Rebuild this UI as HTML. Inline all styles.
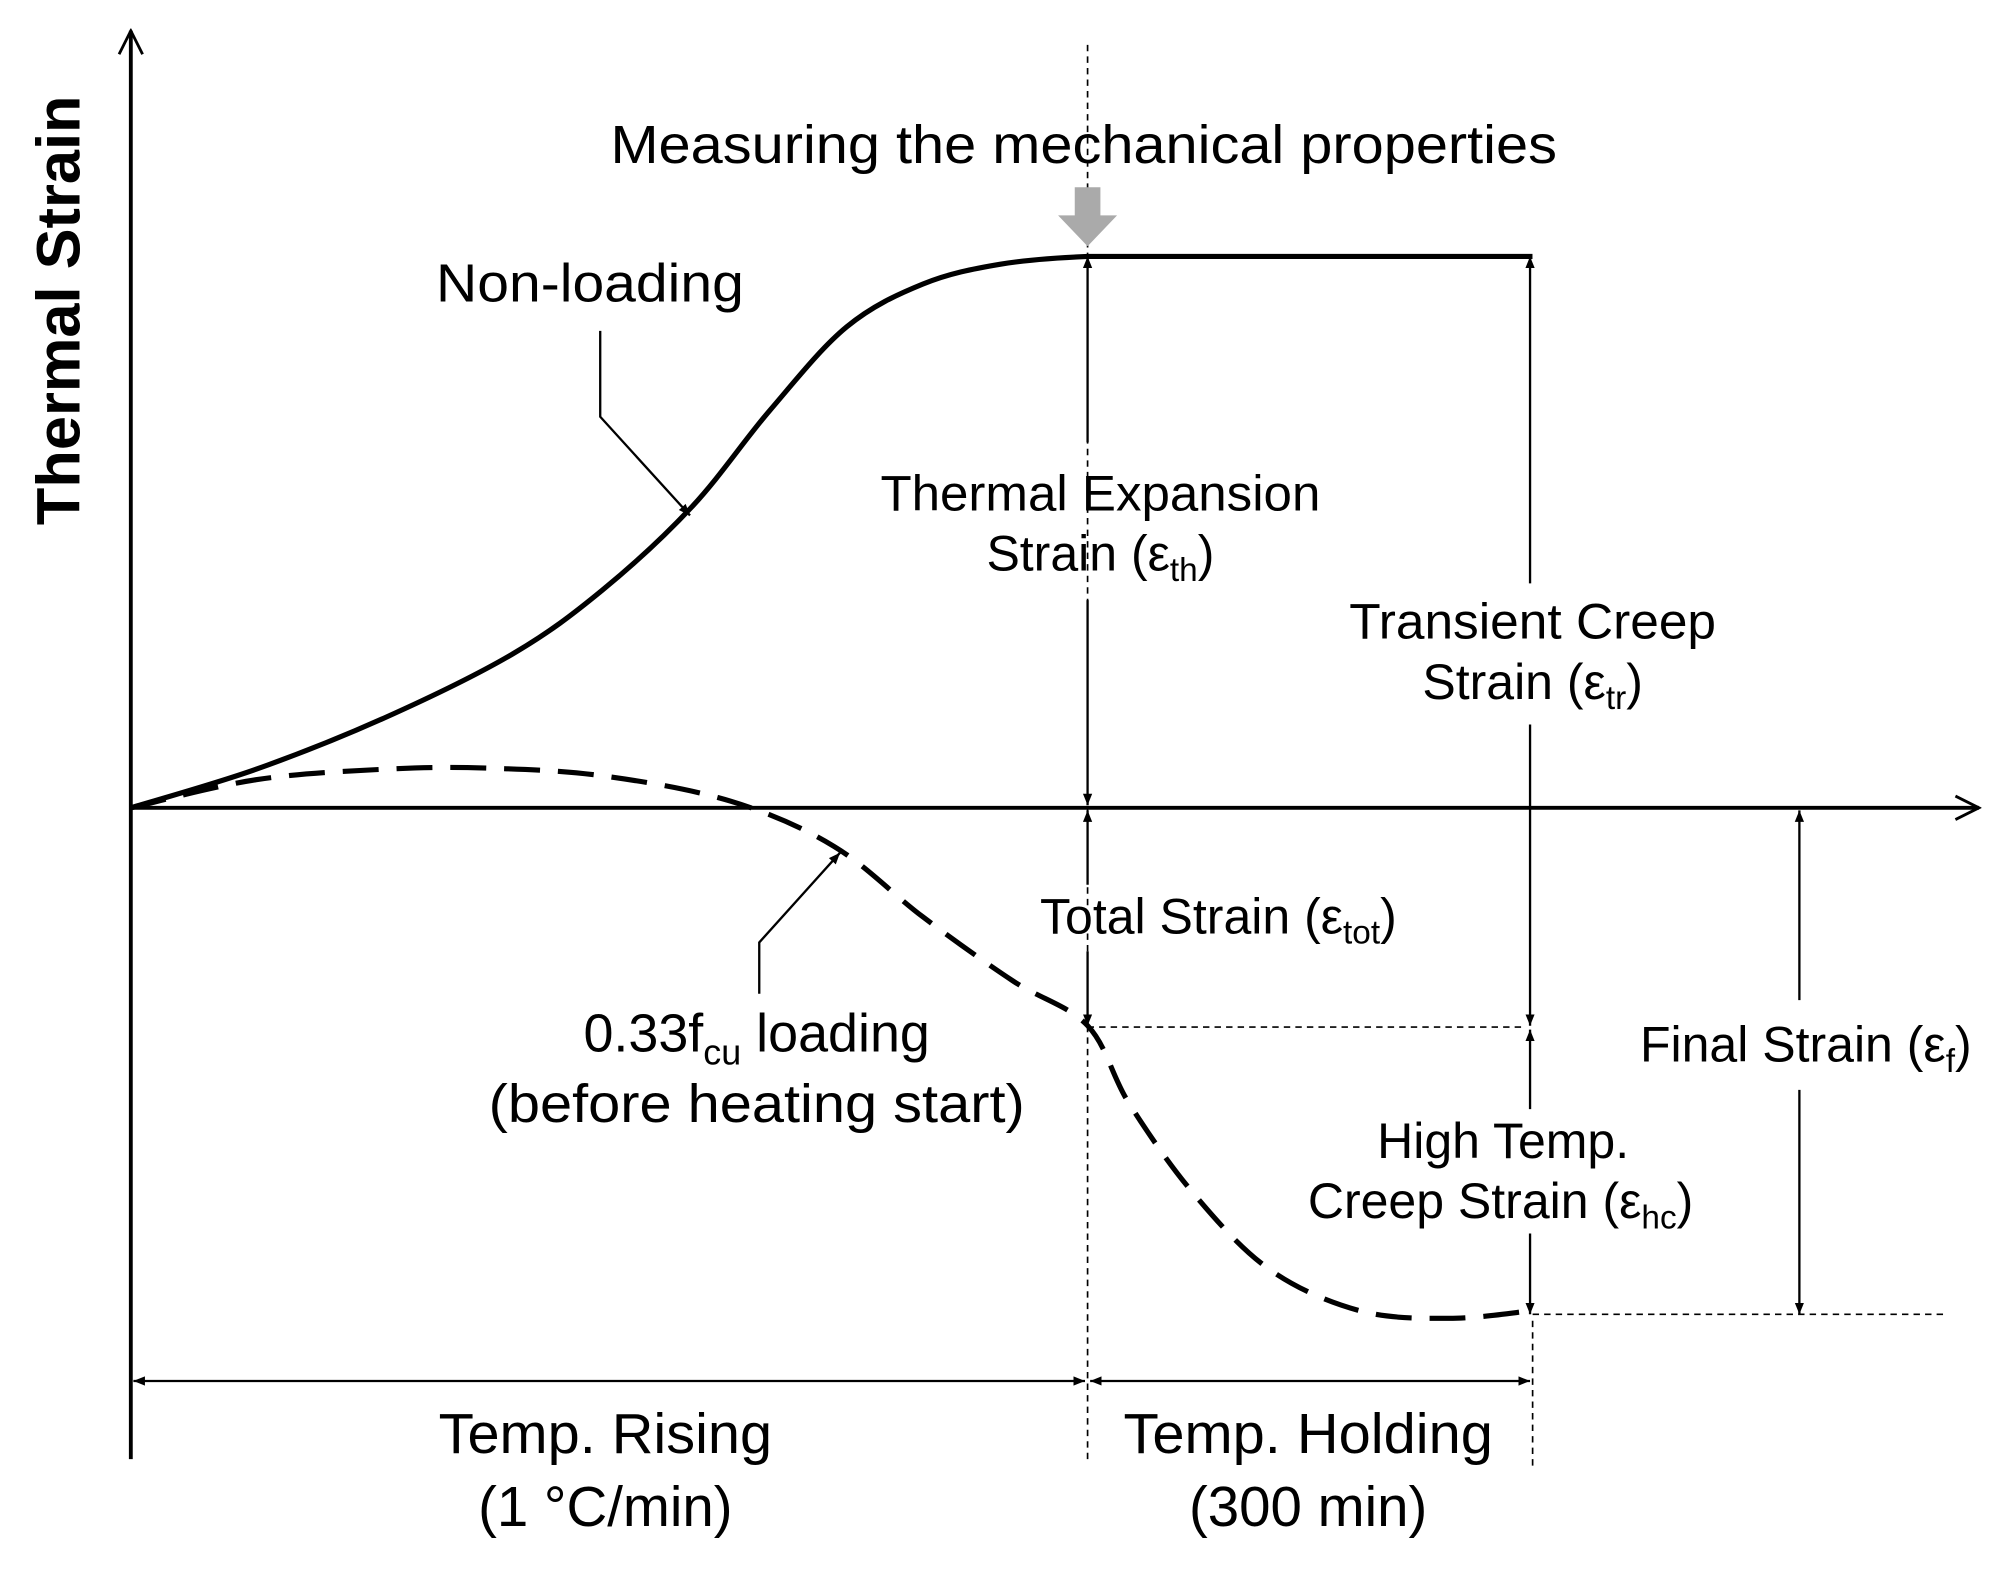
<!DOCTYPE html>
<html><head><meta charset="utf-8"><style>
html,body{margin:0;padding:0;background:#fff}
svg{display:block}
text{font-family:"Liberation Sans",Arial,sans-serif;fill:#000}
</style></head><body>
<svg id="chart" width="2011" height="1581" viewBox="0 0 1568 1233" preserveAspectRatio="none" xmlns="http://www.w3.org/2000/svg">
<defs>
<marker id="ah" viewBox="0 0 10 10" refX="10" refY="5" markerWidth="9" markerHeight="9" markerUnits="userSpaceOnUse" orient="auto-start-reverse"><path d="M0,1 L10,5 L0,9 z" fill="#000"/></marker>
<marker id="ax" viewBox="0 0 12 12" refX="11" refY="6" markerWidth="22" markerHeight="22" markerUnits="userSpaceOnUse" orient="auto"><path d="M1,1 L11,6 L1,11" fill="none" stroke="#000" stroke-width="1.2"/></marker>
</defs>
<g id="axes">
<line x1="102" y1="1138" x2="102" y2="24" stroke="#000" stroke-width="3" marker-end="url(#ax)"/>
<line x1="102" y1="630" x2="1543" y2="630" stroke="#000" stroke-width="3" marker-end="url(#ax)"/>
</g>
<text transform="translate(62,242) rotate(-90)" text-anchor="middle" font-size="48" font-weight="bold" textLength="335" lengthAdjust="spacingAndGlyphs">Thermal Strain</text>
<g id="guides" stroke="#000" stroke-width="1.3" stroke-dasharray="5,4" fill="none">
<line x1="848" y1="35" x2="848" y2="1140"/>
<line x1="1195" y1="1030" x2="1195" y2="1145"/>
<line x1="848" y1="801" x2="1190" y2="801"/>
<line x1="1195" y1="1025" x2="1515" y2="1025"/>
</g>
<path d="M838,146 L858,146 L858,168 L871,168 L848,192 L825,168 L838,168 z" fill="#aaa"/>
<g id="series"></g>
<g id="dims" stroke="#000" stroke-width="1.8" fill="none">
<line x1="848" y1="345" x2="848" y2="200" marker-end="url(#ah)"/>
<line x1="848" y1="468" x2="848" y2="628" marker-end="url(#ah)"/>
<line x1="848" y1="690" x2="848" y2="632" marker-end="url(#ah)"/>
<line x1="848" y1="742" x2="848" y2="800" marker-end="url(#ah)"/>
<line x1="1193" y1="455" x2="1193" y2="200" marker-end="url(#ah)"/>
<line x1="1193" y1="565" x2="1193" y2="800" marker-end="url(#ah)"/>
<line x1="1193" y1="865" x2="1193" y2="803" marker-end="url(#ah)"/>
<line x1="1193" y1="962" x2="1193" y2="1025" marker-end="url(#ah)"/>
<line x1="1403" y1="780" x2="1403" y2="632" marker-end="url(#ah)"/>
<line x1="1403" y1="850" x2="1403" y2="1025" marker-end="url(#ah)"/>
<line x1="104" y1="1077" x2="846" y2="1077" marker-start="url(#ah)" marker-end="url(#ah)"/>
<line x1="850" y1="1077" x2="1193" y2="1077" marker-start="url(#ah)" marker-end="url(#ah)"/>
<polyline points="468,258 468,325 538,402" marker-end="url(#ah)"/>
<polyline points="592,775 592,735 655,665" marker-end="url(#ah)"/>
</g>
<g font-size="42" text-anchor="middle">
<text x="845" y="127" font-size="42" textLength="738" lengthAdjust="spacingAndGlyphs">Measuring the mechanical properties</text>
<text x="460" y="235" textLength="240" lengthAdjust="spacingAndGlyphs">Non-loading</text>
<text x="858" y="398" font-size="39" textLength="343" lengthAdjust="spacingAndGlyphs">Thermal Expansion</text>
<text x="858" y="445" font-size="39">Strain (ε<tspan font-size="26" dy="8">th</tspan><tspan dy="-8">)</tspan></text>
<text x="1195" y="498" font-size="39" textLength="286" lengthAdjust="spacingAndGlyphs">Transient Creep</text>
<text x="1195" y="545" font-size="39">Strain (ε<tspan font-size="26" dy="8">tr</tspan><tspan dy="-8">)</tspan></text>
<text x="950" y="728" font-size="39">Total Strain (ε<tspan font-size="26" dy="8">tot</tspan><tspan dy="-8">)</tspan></text>
<text x="590" y="820">0.33f<tspan font-size="28" dy="10">cu</tspan><tspan dy="-10"> loading</tspan></text>
<text x="590" y="875" textLength="418" lengthAdjust="spacingAndGlyphs">(before heating start)</text>
<text x="1408" y="828" font-size="39">Final Strain (ε<tspan font-size="26" dy="8">f</tspan><tspan dy="-8">)</tspan></text>
<text x="1172" y="903" font-size="39">High Temp.</text>
<text x="1170" y="950" font-size="39">Creep Strain (ε<tspan font-size="26" dy="8">hc</tspan><tspan dy="-8">)</tspan></text>
<text x="472" y="1133" font-size="44" textLength="260" lengthAdjust="spacingAndGlyphs">Temp. Rising</text>
<text x="472" y="1190" font-size="44">(1 °C/min)</text>
<text x="1020" y="1133" font-size="44" textLength="288" lengthAdjust="spacingAndGlyphs">Temp. Holding</text>
<text x="1020" y="1190" font-size="44">(300 min)</text>
</g>
</svg>
<script>
const nonLoadTime = [0, 13.1, 26.5, 39.9, 49.3, 58.7, 66.8, 74.8, 82.8, 90.9, 100, 146.5];
const nonLoadStrain = [0, 7, 16.3, 27.9, 39.5, 54.7, 72.1, 87.2, 95, 98.6, 100, 100];
const loadTime = [0, 13.1, 26.5, 37.2, 49.3, 62.7, 73.5, 82.8, 92.2, 100, 104.3, 111, 119, 128.4, 137.8, 146.5];
const loadStrain = [0, 5.1, 7, 7.2, 5.8, 1.2, -7, -19.8, -31.4, -39.5, -53.5, -69.8, -83.7, -91.2, -92.6, -91.2];
function xS(t){return 102 + t*7.46;}
function yS(s){return 630 - s*4.3;}
function smooth(ts, ss, straightAfter){
  const p = ts.map((t,i)=>[xS(t), yS(ss[i])]);
  let d = 'M' + p[0][0] + ',' + p[0][1];
  for(let i=0;i<p.length-1;i++){
    if(straightAfter!==undefined && i>=straightAfter){d+=' L'+p[i+1][0]+','+p[i+1][1];continue;}
    const p0=p[Math.max(i-1,0)], p1=p[i], p2=p[i+1];
    let p3=p[Math.min(i+2,p.length-1)];
    if(straightAfter!==undefined && i+1>=straightAfter){p3=[2*p2[0]-p1[0], p2[1]];}
    const c1=[p1[0]+(p2[0]-p0[0])/6, p1[1]+(p2[1]-p0[1])/6];
    const c2=[p2[0]-(p3[0]-p1[0])/6, p2[1]-(p3[1]-p1[1])/6];
    d+=' C'+c1[0]+','+c1[1]+' '+c2[0]+','+c2[1]+' '+p2[0]+','+p2[1];
  }
  return d;
}
const g = document.getElementById('series');
const ns = 'http://www.w3.org/2000/svg';
const a = document.createElementNS(ns,'path');


a.setAttribute('d', smooth(nonLoadTime, nonLoadStrain, nonLoadTime.length-2));
a.setAttribute('fill','none');a.setAttribute('stroke','#000');a.setAttribute('stroke-width','4');
g.appendChild(a);
const b = document.createElementNS(ns,'path');


b.setAttribute('d', smooth(loadTime, loadStrain));
b.setAttribute('fill','none');b.setAttribute('stroke','#000');b.setAttribute('stroke-width','4');
b.setAttribute('stroke-dasharray','28,14');
g.appendChild(b);
</script>
</body></html>
